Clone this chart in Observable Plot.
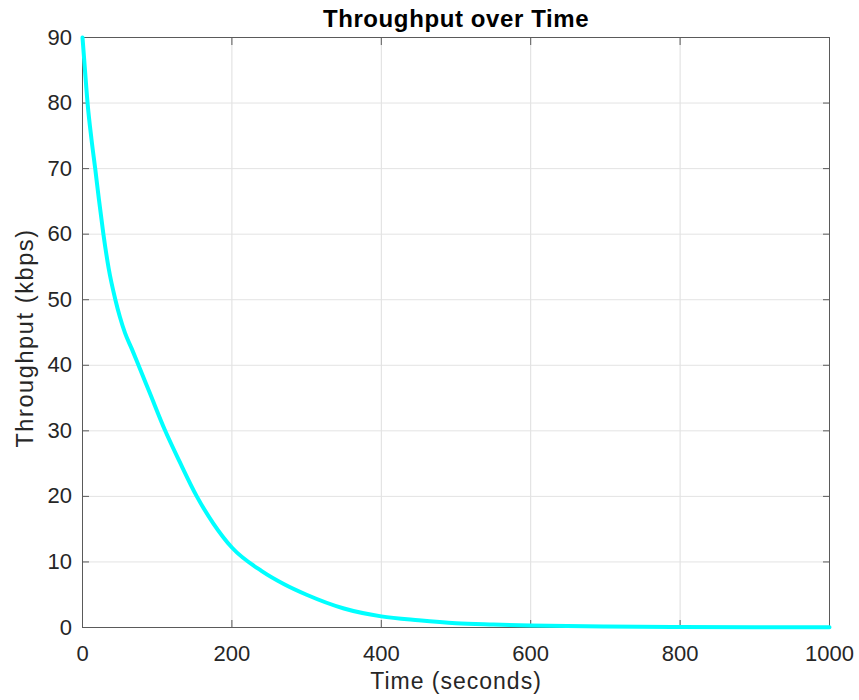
<!DOCTYPE html>
<html>
<head>
<meta charset="utf-8">
<script src="https://cdn.jsdelivr.net/npm/d3@7"></script>
<script src="https://cdn.jsdelivr.net/npm/@observablehq/plot@0.6"></script>
<style>
  body { margin: 0; background: #fff; }
</style>
</head>
<body>
<div id="chart"></div>
<script>
const time = [0, 3, 7, 12, 17, 22, 28, 35, 44, 50, 57, 66, 75, 90, 110, 130, 153, 175, 200, 240, 270, 300, 350, 400, 450, 500, 550, 600, 700, 800, 900, 1000];
const throughput = [90, 85.5, 79.7, 74.5, 70, 65.3, 60, 54.8, 50, 47.4, 44.9, 42.5, 40, 35.8, 30.2, 25.3, 20, 15.9, 12.2, 8.6, 6.6, 5.0, 2.9, 1.7, 1.1, 0.65, 0.45, 0.3, 0.14, 0.07, 0.03, 0.02];
const xTicks = [0, 200, 400, 600, 800, 1000];
const yTicks = [0, 10, 20, 30, 40, 50, 60, 70, 80, 90];
const titleText = "Throughput over Time";
const xLabel = "Time (seconds)";
const yLabel = "Throughput (kbps)";

const data = time.map((t, i) => ({time: t, throughput: throughput[i]}));

const axisStroke = "#5a5a5a";
const textColor = "#262626";

const chart = Plot.plot({
  width: 859,
  height: 700,
  marginLeft: 82,
  marginRight: 30,
  marginTop: 37,
  marginBottom: 73,
  style: {fontFamily: "'Liberation Sans', Arial, Helvetica, sans-serif", fontSize: "22px", color: textColor, background: "#fff", overflow: "visible"},
  x: {domain: [0, 1000]},
  y: {domain: [0, 90]},
  marks: [
    Plot.gridX(xTicks, {stroke: "#dedede", strokeOpacity: 1}),
    Plot.gridY(yTicks, {stroke: "#e3e3e3", strokeOpacity: 1}),
    Plot.frame({stroke: axisStroke}),
    Plot.axisX(xTicks, {anchor: "bottom", tickSize: -7, tickPadding: 24.5, tickFormat: d => String(d), label: null, stroke: axisStroke, fill: textColor}),
    Plot.axisX(xTicks, {anchor: "top", tickSize: -7, tickFormat: () => "", label: null, stroke: axisStroke}),
    Plot.axisY(yTicks, {anchor: "left", tickSize: -7, tickPadding: 17.5, tickFormat: d => String(d), label: null, stroke: axisStroke, fill: textColor}),
    Plot.axisY(yTicks, {anchor: "right", tickSize: -7, tickFormat: () => "", label: null, stroke: axisStroke}),
    Plot.line(data, {x: "time", y: "throughput", stroke: "#00ffff", strokeWidth: 4, curve: "monotone-x"}),
    Plot.text([titleText], {frameAnchor: "top", dy: -10.3, lineAnchor: "bottom", fontWeight: "bold", fontSize: 24, fill: "#000"}),
    Plot.text([xLabel], {frameAnchor: "bottom", dy: 61.3, lineAnchor: "bottom", fontSize: 23, fill: textColor}),
    Plot.text([yLabel], {frameAnchor: "left", dx: -57.5, dy: 5.5, rotate: -90, textAnchor: "middle", lineAnchor: "middle", fontSize: 23.5, fill: textColor})
  ]
});
document.getElementById("chart").appendChild(chart);

// widen letter spacing to match the reference's typesetting
const spacing = new Map([[titleText, 0.6], [xLabel, 1.0], [yLabel, 1.6]]);
d3.select(chart).selectAll("text").each(function() {
  const s = spacing.get(this.textContent);
  if (s != null) d3.select(this).style("letter-spacing", s + "px");
});
</script>
</body>
</html>
